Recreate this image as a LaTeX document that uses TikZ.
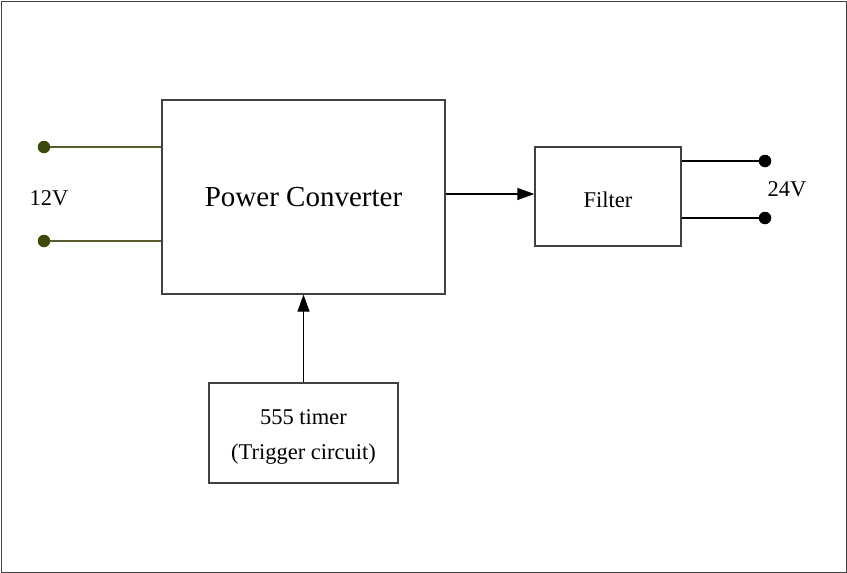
\documentclass[tikz,border=0pt]{standalone}
\usepackage{fontspec}
\setmainfont{Liberation Serif}
\usetikzlibrary{arrows.meta}
\definecolor{olivew}{HTML}{5A5A2E}
\definecolor{olived}{HTML}{3B4A0B}
\definecolor{frame}{HTML}{404040}
\begin{document}
\begin{tikzpicture}[x=1pt,y=-1pt,
  blk/.style={draw=frame,line width=1.2pt,inner sep=0pt},
  conn/.style={draw=black,line width=1.2pt,-{Triangle[length=17pt,width=12pt]}},
  lead/.style={draw=olivew,line width=1.2pt},
  outl/.style={draw=black,line width=1.2pt},
  tdot/.style={circle,fill=olived,inner sep=0pt,minimum size=12.5pt},
  bdot/.style={circle,fill=black,inner sep=0pt,minimum size=12.5pt},
  lbl/.style={font=\fontsize{22.5}{35}\selectfont}]
\useasboundingbox (0,0) rectangle (847,573);
\draw[frame,line width=1pt] (1,1) rectangle (846,572);
\node[blk,minimum width=283pt,minimum height=194pt,font=\fontsize{29}{34}\selectfont] (pc) at (303.5,197) {Power Converter};
\node[blk,minimum width=146pt,minimum height=99pt,lbl] (filt) at (608,196.5) {\raisebox{-3pt}[\height][\depth]{Filter}};
\node[blk,minimum width=189pt,minimum height=100pt,lbl,align=center] (tim) at (303.5,433) {\rule{0pt}{22pt}555 timer\\(Trigger circuit)};
\node[tdot] (a1) at (44,147) {};
\node[tdot] (a2) at (44,241) {};
\node[bdot] (b1) at (765,161) {};
\node[bdot] (b2) at (765,218) {};
\node[lbl] (v12) at (49,198) {12V};
\node[lbl] (v24) at (787,189) {24V};
\draw[lead] (a1) -- (a1 -| pc.west);
\draw[lead] (a2) -- (a2 -| pc.west);
\draw[outl] (b1 -| filt.east) -- (b1);
\draw[outl] (b2 -| filt.east) -- (b2);
\draw[conn] (pc.east |- 0,194) -- (filt.west |- 0,194);
\draw[conn] (tim.north) -- (pc.south);
\end{tikzpicture}
\end{document}
